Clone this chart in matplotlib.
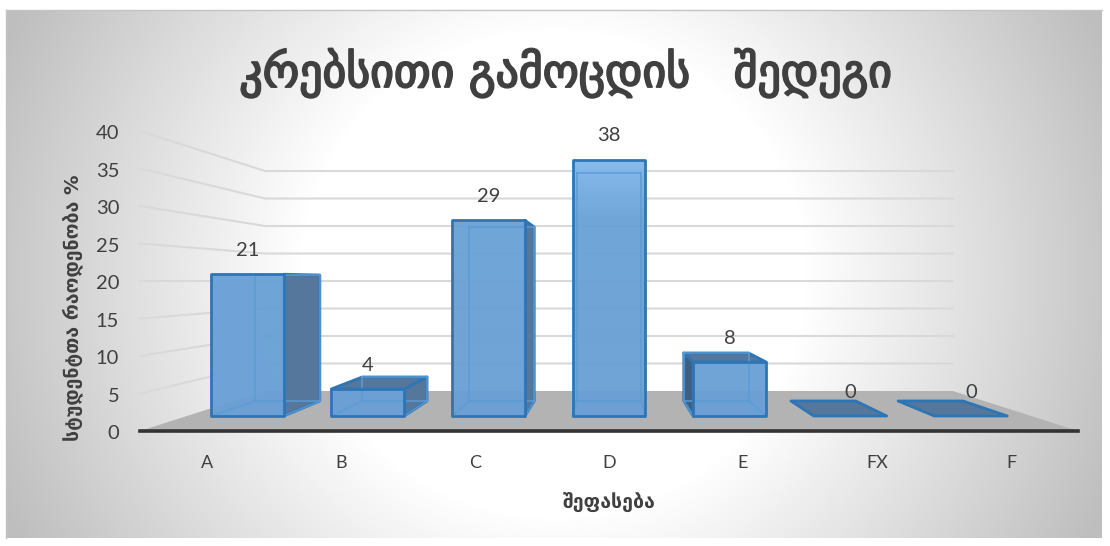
import numpy as np
from matplotlib import pyplot as plt
from matplotlib import patheffects
from matplotlib.colors import LinearSegmentedColormap
from matplotlib.patches import Polygon
from matplotlib.transforms import ScaledTranslation

plt.rcParams['font.family'] = ['Lato', 'DejaVu Sans']

grades = ['A', 'B', 'C', 'D', 'E', 'FX', 'F']
percents = [21, 4, 29, 38, 8, 0, 0]
y_ticks = [0, 5, 10, 15, 20, 25, 30, 35, 40]
title_text = 'კრებსითი გამოცდის   შედეგი'
x_title = 'შეფასება'
y_title = 'სტუდენტთა რაოდენობა %'

W, H = 1110, 546
TEXT = '#404040'
EDGE = '#2e75b6'
SIDE = '#54779b'
GEORGIAN = ['DejaVu Sans']


def project(cat, val, depth):
    # depth 0 is the front of the floor, depth 1 the back wall
    s = 1 - 0.2667 * depth
    return 3 + (cat - 3) * s, 5.333 * depth + val * s


def face(ax, pts, color, alpha=1.0, z=3, lw=2.0, edge=EDGE):
    p = Polygon(pts, closed=True, facecolor=color, edgecolor=edge, linewidth=lw,
                alpha=alpha, zorder=z, clip_on=False, joinstyle='round')
    ax.add_patch(p)
    return p


fig = plt.figure(figsize=(W / 100, H / 100), dpi=100, facecolor='white')

# grey panel with a round white centre
bg = fig.add_axes([6 / W, 1 - 538 / H, 1096 / W, 528 / H])
xx, yy = np.meshgrid(np.linspace(-1, 1, 548), np.linspace(-1, 1, 264))
r = np.sqrt(xx ** 2 + (yy * 0.5) ** 2)
shade = np.clip((r - 0.46) / 0.64, 0, 1)
bg_cmap = LinearSegmentedColormap.from_list('bg', ['#ffffff', '#bebebe'])
bg.imshow(shade, cmap=bg_cmap, vmin=0, vmax=1, aspect='auto')
bg.set_xticks([])
bg.set_yticks([])
for sp in bg.spines.values():
    sp.set_color('#c4c4c4')
    sp.set_linewidth(1.0)
bg.spines['bottom'].set_visible(False)
bg.spines['right'].set_visible(False)

ax = fig.add_axes([140 / W, 1 - 431 / H, 938 / W, 300 / H])
ax.patch.set_alpha(0)
ax.set_xlim(-0.5, 6.5)
ax.set_ylim(0, 40)
for name in ['top', 'left', 'right']:
    ax.spines[name].set_visible(False)
ax.spines['bottom'].set_color('#333333')
ax.spines['bottom'].set_linewidth(2.6)
ax.spines['bottom'].set_zorder(6)
ax.set_xticks(range(len(grades)))
ax.set_xticklabels(grades, fontsize=13, color=TEXT)
ax.set_yticks(y_ticks)
ax.set_yticklabels([str(v) for v in y_ticks], fontsize=14.5, color=TEXT, va='center')
ax.tick_params(axis='x', length=0, pad=17)
ax.tick_params(axis='y', length=0, pad=15)
for label in ax.get_yticklabels():
    label.set_transform(label.get_transform() + ScaledTranslation(0, -2 / 72, fig.dpi_scale_trans))

# walls and floor
for v in y_ticks[1:]:
    wx, wy = zip(project(-0.5, v, 0), project(-0.5, v, 1), project(6.5, v, 1))
    ax.plot(wx, wy, color='#d9d9d9', lw=1.5, zorder=1, clip_on=False)
floor = [project(-0.5, 0, 0), project(-0.5, 0, 1), project(6.5, 0, 1), project(6.5, 0, 0)]
face(ax, floor, '#b3b3b3', z=2, lw=0, edge='none')

# 3d bars
grad_cmap = LinearSegmentedColormap.from_list('bar', ['#69a0d6', '#6ba2d8', '#90c6f8'])
grad = np.linspace(0, 1, 100).reshape(-1, 1) ** 2
D0, D1 = 0.375, 0.75
HALF = 0.3025
for i, v in enumerate(percents):
    x0, x1 = i - HALF, i + HALF
    fbl, fbr = project(x0, 0, D0), project(x1, 0, D0)
    ftl, ftr = project(x0, v, D0), project(x1, v, D0)
    bbl, bbr = project(x0, 0, D1), project(x1, 0, D1)
    btl, btr = project(x0, v, D1), project(x1, v, D1)
    if v > 0:
        if btr[0] > ftr[0]:
            face(ax, [fbr, bbr, btr, ftr], SIDE, z=3)
        if btl[0] < ftl[0]:
            face(ax, [fbl, bbl, btl, ftl], '#3f5f80', z=3)
    if btl[1] > ftl[1] or v == 0:
        face(ax, [ftl, btl, btr, ftr], SIDE, z=3)
    if v > 0:
        im = ax.imshow(grad, cmap=grad_cmap, vmin=0, vmax=1, origin='lower', aspect='auto',
                       extent=(ftl[0], ftr[0], 0, 40), alpha=0.96, zorder=4)
        im.set_clip_path(Polygon([fbl, fbr, ftr, ftl], closed=True, transform=ax.transData))
        # hidden back edges show through the front of the bar
        for a, b in [(bbl, bbr), (bbl, btl), (bbr, btr), (bbl, fbl), (bbr, fbr), (btl, btr)]:
            hx, hy = zip(a, b)
            ax.plot(hx, hy, color='#5b9bd5', lw=1.4, alpha=0.75, zorder=5, clip_on=False)
        face(ax, [fbl, fbr, ftr, ftl], 'none', z=5)
    lx, ly = project(i, v, D0)
    ax.annotate(str(v), (lx, ly), xytext=(0, 17), textcoords='offset points',
                ha='center', va='center', fontsize=14.5, color=TEXT, zorder=7, annotation_clip=False)
ax.set_xlim(-0.5, 6.5)
ax.set_ylim(0, 40)

t = fig.text(566 / W, 1 - 73 / H, title_text, family=GEORGIAN, fontsize=33, color=TEXT,
             ha='center', va='center')
t.set_path_effects([patheffects.withStroke(linewidth=1.4, foreground=TEXT)])
fig.text(609 / W, 1 - 503 / H, x_title, family=GEORGIAN, fontsize=14, fontweight='bold', color=TEXT,
         ha='center', va='center')
fig.text(73 / W, 1 - 308 / H, y_title, family=GEORGIAN, fontsize=14, fontweight='bold', color=TEXT,
         rotation=90, ha='center', va='center')

fig.savefig('out.png', dpi=100)
